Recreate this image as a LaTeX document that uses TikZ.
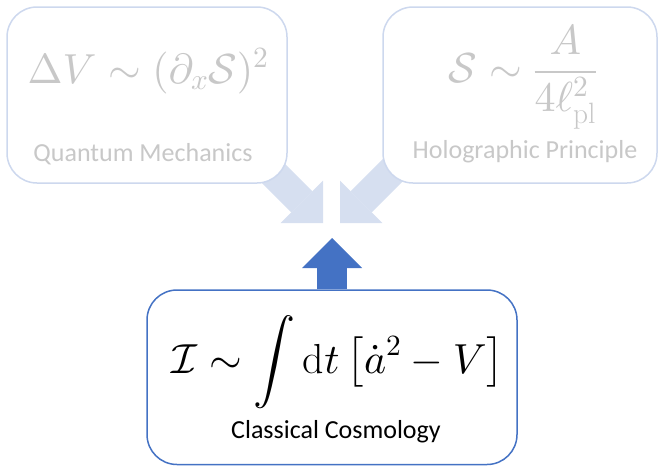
\documentclass[tikz,border=0pt]{standalone}
\usepackage{amsmath}
\usepackage{fontspec}
\newfontfamily\labelfont{Carlito}
\DeclareFontShape{OML}{cmm}{m}{it}{<->cmmi10}{}
\DeclareFontShape{OMS}{cmsy}{m}{n}{<->cmsy10}{}
\DeclareFontShape{OMX}{cmex}{m}{n}{<->cmex10}{}
\DeclareFontShape{OT1}{cmr}{m}{n}{<->cmr10}{}
\usetikzlibrary{arrows.meta}
\definecolor{accent}{RGB}{68,114,196}
\definecolor{palearrow}{RGB}{214,223,240}
\definecolor{paleborder}{RGB}{205,216,238}
\definecolor{fadetext}{RGB}{200,200,200}
\pgfdeclarelayer{bg}\pgfsetlayers{bg,main}
\begin{document}
\begin{tikzpicture}[x=1pt,y=-1pt,
  box/.style={draw, rounded corners=30pt, fill=white, inner sep=0pt},
  topbox/.style={box, draw=paleborder, line width=1.5pt},
  basebox/.style={box, draw=accent, line width=1.5pt},
  formula/.style={anchor=base, inner sep=0pt, font=\fontsize{42}{50}\selectfont},
  caption/.style={anchor=base, inner sep=0pt, font=\labelfont\fontsize{26}{30}\selectfont},
  blockarrow/.style={line width=30pt, -{Triangle[width=60pt,length=30pt,line width=0pt]}}]
\useasboundingbox (0,0) rectangle (658,466);
\node[topbox, minimum width=280pt, minimum height=176pt] (qm) at (147,95) {};
\node[topbox, minimum width=274pt, minimum height=176pt] (hp) at (520,95) {};
\node[basebox, minimum width=370pt, minimum height=174.5pt] (cc) at (332,377.25) {};
\node[formula, text=fadetext] (qmeq) at (148,83) {$\Delta V \sim (\partial_x \mathcal{S})^2$};
\node[caption, text=fadetext] (qmlabel) at (143,161) {Quantum Mechanics};
\node[formula, text=fadetext] (hpeq) at (523,82.5) {$\displaystyle \mathcal{S} \sim \frac{A}{4\ell_{\mathrm{pl}}^2}$};
\node[caption, text=fadetext] (hplabel) at (525,158) {Holographic Principle};
\node[formula, text=black] (cceq) at (338,373) {$\displaystyle \mathcal{I} \sim \int \mathrm{d}t\,\big[\dot a^2 - V\big]$};
\node[caption, text=black] (cclabel) at (336,438) {Classical Cosmology};
\begin{pgfonlayer}{bg}
\coordinate (qmtail) at (253,153);
\coordinate (qmtip) at (323,223);
\coordinate (hptail) at (410,153);
\coordinate (hptip) at (340,223);
\coordinate (cctip) at (332,238);
\draw[blockarrow, palearrow] (qmtail) -- (qmtip);
\draw[blockarrow, palearrow] (hptail) -- (hptip);
\draw[blockarrow, accent] (cc.north) -- (cctip);
\end{pgfonlayer}
\end{tikzpicture}
\end{document}
